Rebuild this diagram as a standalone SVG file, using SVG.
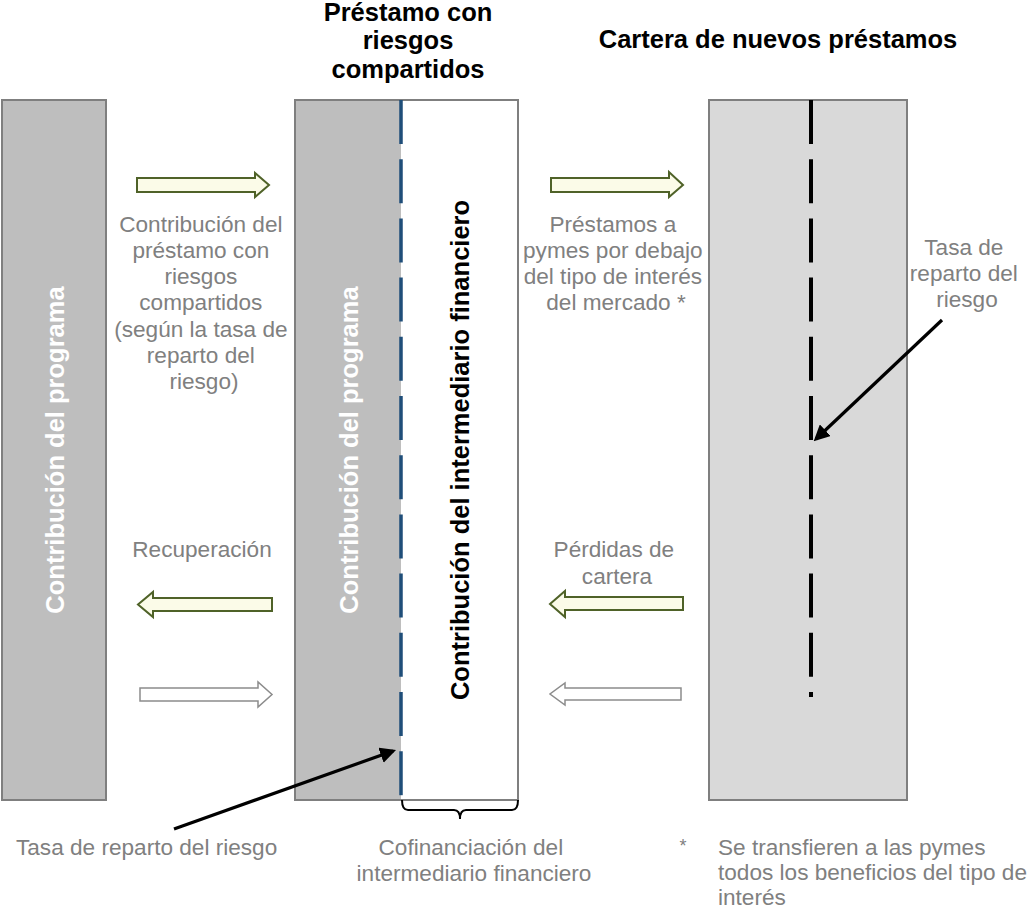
<svg xmlns="http://www.w3.org/2000/svg" width="1031" height="908" viewBox="0 0 1031 908">
<defs>
<style>
.bar{stroke:#7f7f7f;stroke-width:2}
.body{font-family:"Liberation Sans",Arial,sans-serif;font-size:22.6px;fill:#808080;text-anchor:middle}
.title{font-family:"Liberation Sans",Arial,sans-serif;font-size:25.5px;font-weight:bold;fill:#000;text-anchor:middle}
.vlab{font-family:"Liberation Sans",Arial,sans-serif;font-size:25.5px;font-weight:bold;text-anchor:middle}
.garrow{fill:#fbfbe8;stroke:#4f6228;stroke-width:2;stroke-linejoin:miter}
.parrow{fill:#ffffff;stroke:#8c8c8c;stroke-width:1.5}
.pointer{stroke:#000;stroke-width:3.2;fill:none;marker-end:url(#ah)}
</style>
<marker id="ah" viewBox="0 0 10 10" refX="8" refY="5" markerWidth="5" markerHeight="5" orient="auto" markerUnits="strokeWidth">
<path d="M0,0 L10,5 L0,10 z" fill="#000"/>
</marker>
</defs>
<rect width="1031" height="908" fill="#ffffff"/>

<g id="titles">
<text class="title" x="408" y="21">Préstamo con</text>
<text class="title" x="408" y="49">riesgos</text>
<text class="title" x="408" y="78">compartidos</text>
<text class="title" x="778" y="48">Cartera de nuevos préstamos</text>
</g>

<g id="node-left">
<rect class="bar" x="2" y="100" width="104" height="700" fill="#bebebe"/>
<text class="vlab" fill="#ffffff" transform="translate(55,450) rotate(-90)" dy="9">Contribución del programa</text>
</g>

<g id="node-middle">
<rect class="bar" x="295" y="100" width="223" height="700" fill="#ffffff"/>
<rect x="296" y="101" width="105" height="698" fill="#bebebe"/>
<line x1="401" y1="100" x2="401" y2="800" stroke="#1f4e79" stroke-width="3.5" stroke-dasharray="44 15.2"/>
<text class="vlab" fill="#ffffff" transform="translate(349,450) rotate(-90)" dy="9">Contribución del programa</text>
<text class="vlab" fill="#000000" transform="translate(460,450) rotate(-90)" dy="9">Contribución del intermediario financiero</text>
<path d="M402,800 Q402,810 408,810 L454,810 Q460,810 460,819 Q460,810 466,810 L512,810 Q518,810 518,800" fill="none" stroke="#000" stroke-width="2"/>
</g>

<g id="node-right">
<rect class="bar" x="709" y="100" width="198" height="700" fill="#d9d9d9"/>
<line x1="811" y1="100" x2="811" y2="697" stroke="#000" stroke-width="4" stroke-dasharray="44 15.2"/>
</g>

<g id="connectors">
<polygon class="garrow" points="137,178 255,178 255,173 269,185 255,197 255,192 137,192"/>
<polygon class="garrow" points="551,178 669,178 669,172 683,185 669,197 669,192 551,192"/>
<polygon class="garrow" points="272,598 153,598 153,592 138,604.5 153,617 153,611 272,611"/>
<polygon class="garrow" points="683,597 565,597 565,591 550,604 565,617 565,610 683,610"/>
<polygon class="parrow" points="140,688 258,688 258,682 272,694.5 258,707 258,701 140,701"/>
<polygon class="parrow" points="681,688 565,688 565,683 550,694 565,705 565,700 681,700"/>
<line class="pointer" x1="174" y1="829" x2="393" y2="751"/>
<line class="pointer" x1="942" y1="320" x2="816" y2="439"/>
</g>

<g id="labels">
<text class="body" x="204">
<tspan x="204" y="232">Contribución del</tspan>
<tspan x="204" y="258">préstamo con</tspan>
<tspan x="204" y="284">riesgos</tspan>
<tspan x="204" y="310">compartidos</tspan>
<tspan x="204" y="337">(según la tasa de</tspan>
<tspan x="204" y="363">reparto del</tspan>
<tspan x="204" y="389">riesgo)</tspan>
</text>
<text class="body">
<tspan x="616" y="232">Préstamos a</tspan>
<tspan x="616" y="258">pymes por debajo</tspan>
<tspan x="616" y="284">del tipo de interés</tspan>
<tspan x="616" y="310">del mercado *</tspan>
</text>
<text class="body">
<tspan x="967" y="255">Tasa de</tspan>
<tspan x="967" y="281">reparto del</tspan>
<tspan x="967" y="307">riesgo</tspan>
</text>
<text class="body" x="202" y="557">Recuperación</text>
<text class="body">
<tspan x="617" y="557">Pérdidas de</tspan>
<tspan x="617" y="584">cartera</tspan>
</text>
<text class="body" x="16" y="855" style="text-anchor:start">Tasa de reparto del riesgo</text>
<text class="body">
<tspan x="474" y="855">Cofinanciación del</tspan>
<tspan x="474" y="881">intermediario financiero</tspan>
</text>
<text class="body" x="683" y="852" style="font-size:18px">*</text>
<text class="body" style="text-anchor:start">
<tspan x="718" y="855">Se transfieren a las pymes</tspan>
<tspan x="718" y="880">todos los beneficios del tipo de</tspan>
<tspan x="718" y="905">interés</tspan>
</text>
</g>
</svg>
